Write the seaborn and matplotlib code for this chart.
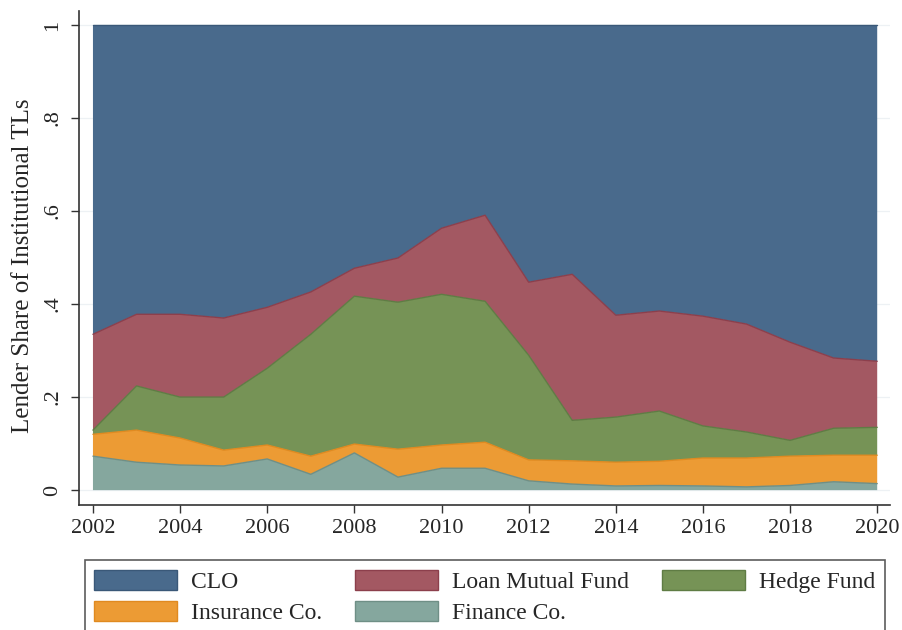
import numpy as np
import pandas as pd
import matplotlib
matplotlib.use("Agg")
import matplotlib.pyplot as plt
import seaborn as sns
from matplotlib.patches import Patch

years = list(range(2002, 2021))

# shares (each series on its own, not stacked)
finance = [0.073, 0.060, 0.054, 0.052, 0.067, 0.034, 0.080, 0.028, 0.047, 0.047,
           0.020, 0.013, 0.009, 0.010, 0.009, 0.007, 0.010, 0.018, 0.014]
insurance = [0.047, 0.069, 0.058, 0.034, 0.030, 0.039, 0.019, 0.060, 0.050, 0.056,
             0.045, 0.050, 0.051, 0.052, 0.060, 0.062, 0.063, 0.057, 0.061]
hedge = [0.009, 0.095, 0.088, 0.114, 0.165, 0.262, 0.318, 0.316, 0.324, 0.303,
         0.225, 0.087, 0.097, 0.108, 0.069, 0.056, 0.034, 0.058, 0.060]
loan_mf = [0.206, 0.154, 0.178, 0.170, 0.131, 0.091, 0.060, 0.095, 0.142, 0.185,
           0.157, 0.314, 0.219, 0.215, 0.236, 0.232, 0.211, 0.151, 0.142]
clo = [0.665, 0.622, 0.622, 0.630, 0.607, 0.574, 0.523, 0.501, 0.437, 0.409,
       0.553, 0.536, 0.624, 0.615, 0.626, 0.643, 0.682, 0.716, 0.723]

labels = ["Finance Co.", "Insurance Co.", "Hedge Fund", "Loan Mutual Fund", "CLO"]
colors = ["#85a79e", "#ec9b34", "#769356", "#a35862", "#496a8c"]
edges = ["#6f8f86", "#e08a20", "#5f7c44", "#8c3f4c", "#3a5878"]

df = pd.DataFrame({"year": years, "Finance Co.": finance, "Insurance Co.": insurance,
                   "Hedge Fund": hedge, "Loan Mutual Fund": loan_mf, "CLO": clo})

sns.set_theme(style="white")
plt.rcParams["font.family"] = ["Liberation Serif", "DejaVu Serif"]

fig = plt.figure(figsize=(9.02, 6.3), dpi=100)
ax = fig.add_axes([0.0876, 0.1984, 0.8994, 0.7841])

for yv in [0, 0.2, 0.4, 0.6, 0.8, 1.0]:
    ax.axhline(yv, color="#edf1f4", lw=0.9, zorder=0)

polys = ax.stackplot(df["year"], [df[c] for c in labels], colors=colors,
                     edgecolor="none", zorder=2)
cum = np.zeros(len(years))
for c, ec in zip(labels, edges):
    cum = cum + df[c].values
    sns.lineplot(x=df["year"], y=cum, color=ec, lw=1.0, ax=ax, zorder=3)

ax.set_xlim(2001.68, 2020.30)
ax.set_ylim(-0.032, 1.030)
ax.set_xticks(range(2002, 2021, 2))
ax.set_yticks([0, 0.2, 0.4, 0.6, 0.8, 1.0])
ax.set_yticklabels(["0", ".2", ".4", ".6", ".8", "1"], rotation=90, va="center")
ax.tick_params(axis="both", labelsize=16, length=6, width=1, color="#333333",
               left=True, bottom=True, pad=4)
ax.tick_params(axis="y", pad=6)
ax.set_ylabel("Lender Share of Institutional TLs", fontsize=18)
ax.yaxis.set_label_coords(-0.056, 0.484)
ax.set_xlabel("")
for s in ["top", "right"]:
    ax.spines[s].set_visible(False)
for s in ["left", "bottom"]:
    ax.spines[s].set_color("#333333")
    ax.spines[s].set_linewidth(1.2)

order = ["CLO", "Insurance Co.", "Loan Mutual Fund", "Finance Co.", "Hedge Fund"]
handles = [Patch(facecolor=colors[labels.index(n)], edgecolor=edges[labels.index(n)],
                 label=n) for n in order]
leg = fig.legend(handles=handles, ncol=3, loc="upper left",
                 bbox_to_anchor=(0.094, -0.02, 0.887, 0.131), mode="expand",
                 fontsize=17, frameon=True, fancybox=False, edgecolor="#333333",
                 handlelength=3.5, handleheight=0.93, handletextpad=0.6,
                 labelspacing=0.35, borderpad=0.4, borderaxespad=0)
leg.get_frame().set_linewidth(1.2)

fig.savefig("out.png", dpi=100)
